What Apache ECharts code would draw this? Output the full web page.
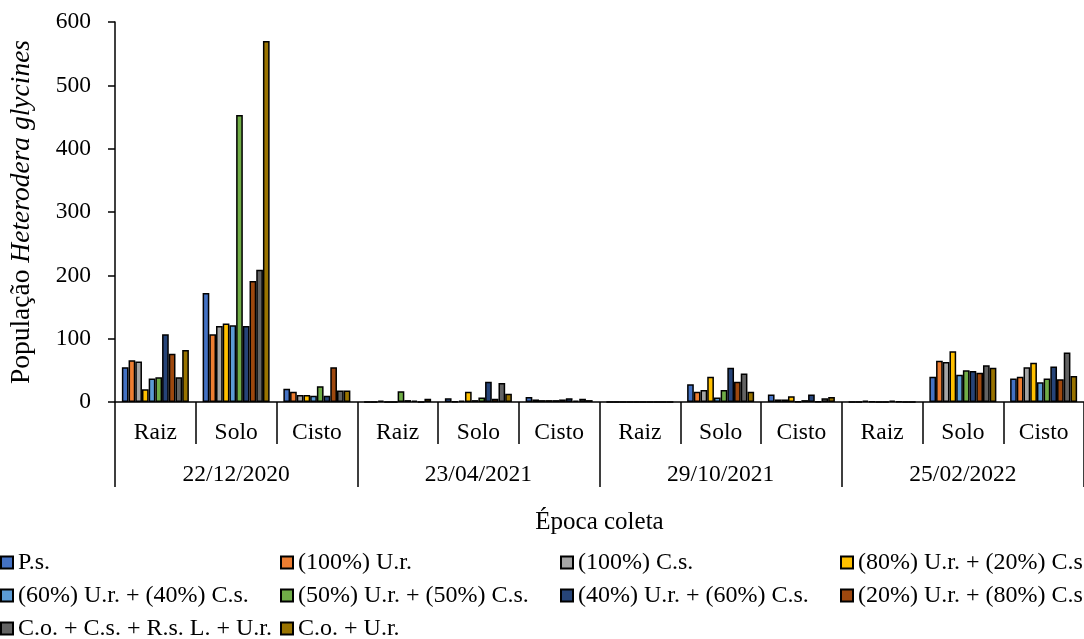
<!DOCTYPE html>
<html>
<head>
<meta charset="utf-8">
<script src="https://cdn.jsdelivr.net/npm/echarts@6/dist/echarts.min.js"></script>
<style>
  html, body { margin: 0; padding: 0; background: #fff; }
  #chart { width: 1084px; height: 639px; }
</style>
</head>
<body>
<div id="chart"></div>
<script>
// Sample type for each bar group, repeated for every collection date
const sampleTypes = ['Raiz', 'Solo', 'Cisto', 'Raiz', 'Solo', 'Cisto', 'Raiz', 'Solo', 'Cisto', 'Raiz', 'Solo', 'Cisto'];
// Collection dates (second axis level)
const collectionDates = ['22/12/2020', '23/04/2021', '29/10/2021', '25/02/2022'];
const yTicks = { min: 0, max: 600, step: 100 };

// Population per treatment, one value per sample type / date
const ps        = [55, 172, 21, 0, 6, 8, 0, 28, 12, 0, 40, 37];
const ur100     = [66, 107, 16, 0, 1, 4, 0, 16, 4, 0, 65, 40];
const cs100     = [64, 120, 11, 2, 2, 3, 0, 19, 4, 2, 63, 55];
const ur80cs20  = [20, 124, 11, 0, 16, 3, 0, 40, 9, 1, 80, 62];
const ur60cs40  = [37, 121, 10, 0, 3, 3, 0, 7, 1, 0, 43, 31];
const ur50cs50  = [39, 453, 25, 17, 7, 4, 0, 19, 3, 0, 50, 37];
const ur40cs60  = [107, 120, 10, 3, 32, 6, 0, 54, 12, 2, 49, 56];
const ur20cs80  = [76, 191, 55, 2, 5, 2, 0, 32, 1, 1, 46, 36];
const coCsRsUr  = [39, 209, 18, 0, 30, 5, 0, 45, 6, 0, 58, 78];
const coUr      = [82, 570, 18, 5, 13, 3, 0, 16, 8, 0, 54, 41];

const seriesNames = [
  'P.s.', '(100%) U.r.', '(100%) C.s.', '(80%) U.r. + (20%) C.s.',
  '(60%) U.r. + (40%) C.s.', '(50%) U.r. + (50%) C.s.', '(40%) U.r. + (60%) C.s.',
  '(20%) U.r. + (80%) C.s.', 'C.o. + C.s. + R.s. L. + U.r.', 'C.o. + U.r.'
];
const seriesValues = [ps, ur100, cs100, ur80cs20, ur60cs40, ur50cs50, ur40cs60, ur20cs80, coCsRsUr, coUr];
const seriesColors = ['#4472C4', '#ED7D31', '#A5A5A5', '#FFC000', '#5B9BD5',
                      '#70AD47', '#264478', '#9E480E', '#636363', '#997300'];

const FONT = "'Liberation Serif', 'Times New Roman', serif";

const chart = echarts.init(document.getElementById('chart'), null, { renderer: 'canvas' });

chart.setOption({
  backgroundColor: '#fff',
  animation: false,
  grid: { left: 115, top: 22, width: 974, height: 380 },
  legend: {
    data: seriesNames,
    left: 0,
    top: 546,
    width: 1140,
    padding: 0,
    itemGap: 0,
    itemWidth: 12,
    itemHeight: 12,
    icon: 'rect',
    textStyle: {
      fontFamily: FONT, fontSize: 24, color: '#000',
      width: 262, lineHeight: 33
    }
  },
  xAxis: [
    {
      type: 'category',
      data: sampleTypes,
      position: 'bottom',
      axisLine: { lineStyle: { color: '#000', width: 1.5 } },
      axisTick: { show: true, interval: 0, length: 42, lineStyle: { color: '#000', width: 1.5 } },
      axisLabel: { interval: 0, margin: 19, fontFamily: FONT, fontSize: 23.5, color: '#000' },
      name: 'Época coleta',
      nameLocation: 'middle',
      nameGap: 108,
      nameTextStyle: { fontFamily: FONT, fontSize: 25, color: '#000' }
    },
    {
      type: 'category',
      data: collectionDates,
      position: 'bottom',
      offset: 0,
      axisLine: { show: false },
      axisTick: { show: true, interval: 0, length: 85, lineStyle: { color: '#000', width: 1.5 } },
      axisLabel: { interval: 0, margin: 61, fontFamily: FONT, fontSize: 23.5, color: '#000' }
    }
  ],
  yAxis: {
    type: 'value',
    min: yTicks.min,
    max: yTicks.max,
    interval: yTicks.step,
    axisLine: { show: true, lineStyle: { color: '#000', width: 1.5 } },
    axisTick: { show: true, length: 7, lineStyle: { color: '#000', width: 1.5 } },
    splitLine: { show: false },
    axisLabel: { margin: 24, fontFamily: FONT, fontSize: 23.5, color: '#000' },
    name: 'População {i|Heterodera glycines}',
    nameLocation: 'middle',
    nameGap: 79,
    nameTextStyle: {
      fontFamily: FONT, fontSize: 27.5, color: '#000',
      rich: { i: { fontFamily: FONT, fontSize: 27.5, fontStyle: 'italic', color: '#000' } }
    }
  },
  series: seriesNames.map((name, k) => ({
    name: name,
    type: 'bar',
    xAxisIndex: 0,
    data: seriesValues[k],
    barGap: '0%',
    barCategoryGap: '17%',
    itemStyle: { color: seriesColors[k], borderColor: '#000', borderWidth: 1.5 }
  }))
});
</script>
</body>
</html>
